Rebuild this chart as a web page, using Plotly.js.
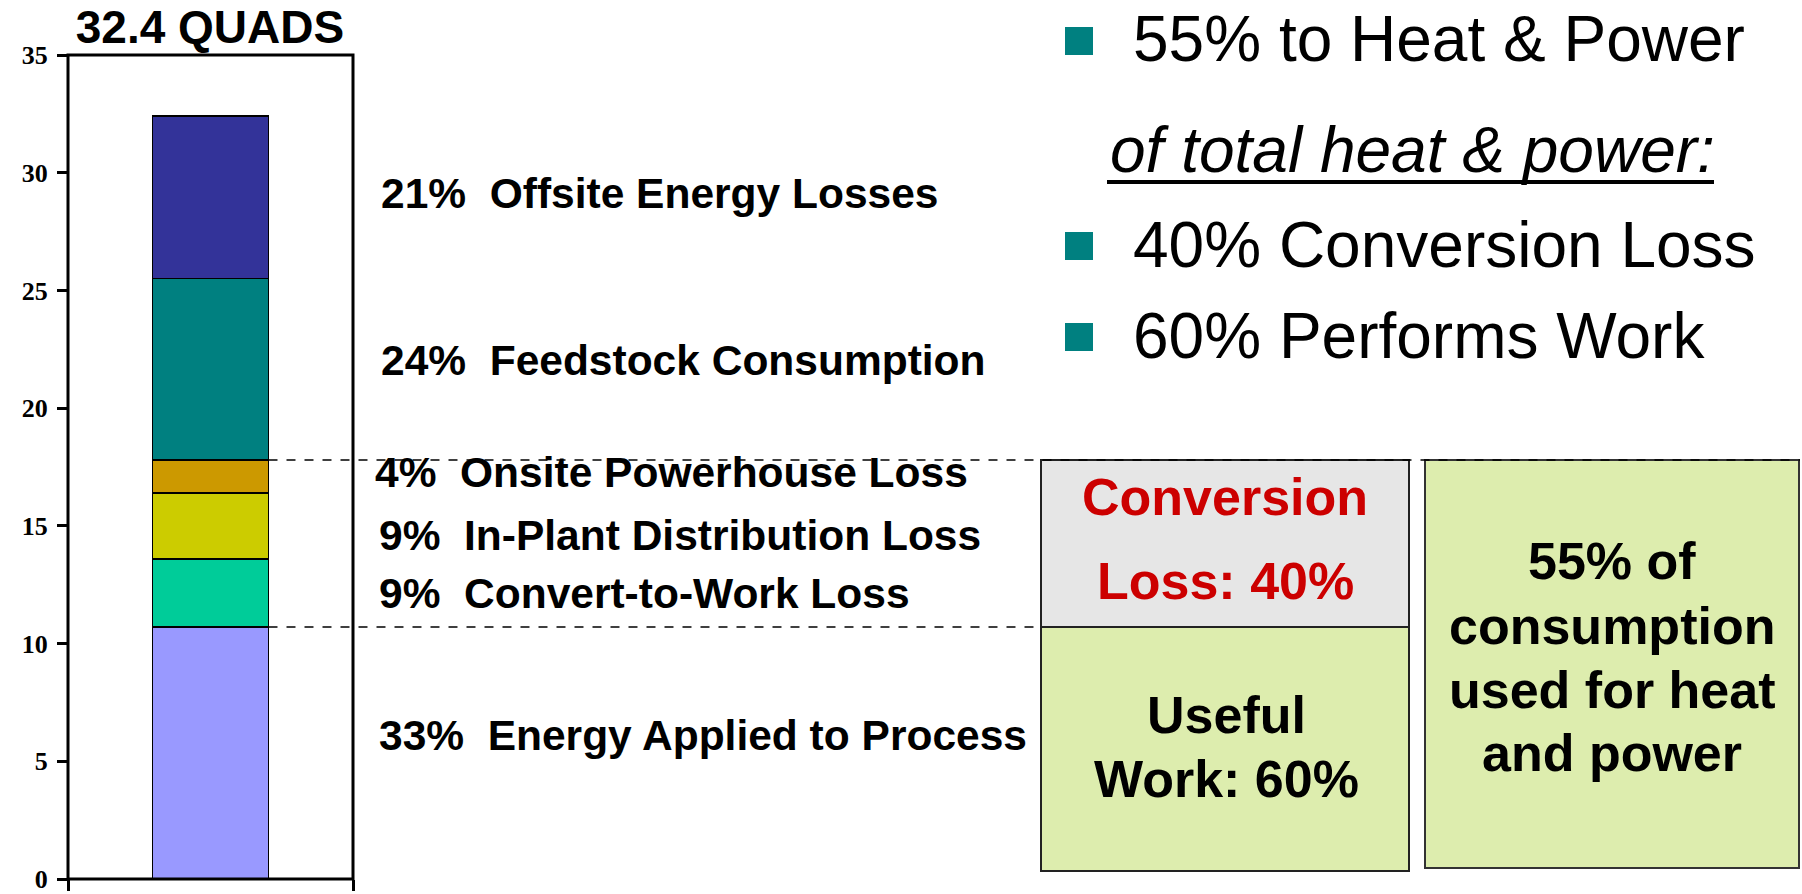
<!DOCTYPE html>
<html><head><meta charset="utf-8">
<script src="https://cdn.plot.ly/plotly-3.0.1.min.js"></script>
<style>html,body{margin:0;padding:0;background:#fff;}#chart{width:1802px;height:894px;}</style>
</head><body><div id="chart"></div>
<script>
// ---- data ----
const categories = ['Energy Applied to Process','Convert-to-Work Loss','In-Plant Distribution Loss','Onsite Powerhouse Loss','Feedstock Consumption','Offsite Energy Losses'];
const quads = [10.7, 2.9, 2.8, 1.4, 7.7, 6.9];
const shares = ['33%','9%','9%','4%','24%','21%'];
const segmentColors = ['#9999FF','#00CC99','#CCCC00','#CC9900','#008080','#333399'];
const yTickValues = [0,5,10,15,20,25,30,35];
const yTickLabels = ['0','5','10','15','20','25','30','35'];
const totalLabel = '32.4 QUADS';
const bulletLines = ['55% to Heat & Power','40% Conversion Loss','60% Performs Work'];
const subHeading = 'of total heat & power:';
const conversionLines = ['Conversion','Loss: 40%'];
const usefulLines = ['Useful','Work: 60%'];
const heatPowerLines = ['55% of','consumption','used for heat','and power'];

// ---- layout helpers (pixel -> paper) ----
const W = 1802, H = 894;
const PL = 68, PR = 353, PT = 55, PB = 879;
const px2x = p => (p - PL) / (PR - PL);
const py2y = p => 1 - (p - PT) / (PB - PT);
const FONT = 'Liberation Sans, Arial, sans-serif';
const barWidth = 0.407;

const cum = [];
quads.reduce((a, v, i) => (cum[i] = +(a + v).toFixed(2)), 0);
const yMax = 35;

const traces = categories.map((c, i) => ({
  type: 'bar', x: [0], y: [quads[i]], name: c, width: barWidth,
  marker: {color: segmentColors[i], line: {color: '#000', width: 1.5}},
  hovertemplate: c + ': %{y}<extra></extra>'
}));

const labelPx = [[377,735],[377,593],[377,535],[373,472],[379,360],[379,193]];
const annotations = [];
categories.forEach((c, i) => {
  annotations.push({xref:'paper', yref:'paper', x: px2x(labelPx[i][0]), y: py2y(labelPx[i][1]),
    xanchor:'left', yanchor:'middle', showarrow:false,
    text: '<b>' + shares[i] + '\u00a0\u00a0' + c + '</b>',
    font:{family: FONT, size: 42.5, color:'#000'}});
});
const bulletY = [39, 245, 336];
bulletLines.forEach((t, i) => annotations.push({xref:'paper', yref:'paper', x: px2x(1131), y: py2y(bulletY[i]),
  xanchor:'left', yanchor:'middle', showarrow:false, text: t, font:{family: FONT, size: 64, color:'#000'}}));
annotations.push({xref:'paper', yref:'paper', x: px2x(1108), y: py2y(150), xanchor:'left', yanchor:'middle',
  showarrow:false, text: '<i>' + subHeading + '</i>', font:{family: FONT, size: 64, color:'#000'}});
const convY = [497, 581];
conversionLines.forEach((t, i) => annotations.push({xref:'paper', yref:'paper', x: px2x(1225), y: py2y(convY[i]),
  xanchor:'center', yanchor:'middle', showarrow:false, text:'<b>'+t+'</b>', font:{family: FONT, size: 52, color:'#CC0000'}}));
const usefulY = [715, 779];
usefulLines.forEach((t, i) => annotations.push({xref:'paper', yref:'paper', x: px2x(1226), y: py2y(usefulY[i]),
  xanchor:'center', yanchor:'middle', showarrow:false, text:'<b>'+t+'</b>', font:{family: FONT, size: 52, color:'#000'}}));
const hpY = [561, 626, 690, 753];
heatPowerLines.forEach((t, i) => annotations.push({xref:'paper', yref:'paper', x: px2x(1612), y: py2y(hpY[i]),
  xanchor:'center', yanchor:'middle', showarrow:false, text:'<b>'+t+'</b>', font:{family: FONT, size: 52, color:'#000'}}));

const upper = cum[3] / yMax, lower = cum[0] / yMax;
const barRight = 0.5 + barWidth / 2;
const shapes = [
  {type:'rect', xref:'paper', yref:'paper', x0: px2x(1041), x1: px2x(1409), y0: lower, y1: upper,
   fillcolor:'#e6e6e6', line:{color:'#222', width:2}},
  {type:'rect', xref:'paper', yref:'paper', x0: px2x(1041), x1: px2x(1409), y0: py2y(871), y1: lower,
   fillcolor:'#DDEDAE', line:{color:'#222', width:2}},
  {type:'rect', xref:'paper', yref:'paper', x0: px2x(1425), x1: px2x(1799), y0: py2y(868), y1: upper,
   fillcolor:'#DDEDAE', line:{color:'#333', width:2}},
  {type:'line', xref:'paper', yref:'paper', x0: barRight, x1: px2x(1800), y0: upper, y1: upper,
   line:{color:'#000', width:1.5, dash:'dash'}},
  {type:'line', xref:'paper', yref:'paper', x0: barRight, x1: px2x(1041), y0: lower, y1: lower,
   line:{color:'#000', width:1.5, dash:'dash'}},
  {type:'line', xref:'paper', yref:'paper', x0: px2x(1107), x1: px2x(1714), y0: py2y(182), y1: py2y(182),
   line:{color:'#000', width:4}},
  // plot frame
  {type:'rect', xref:'paper', yref:'paper', x0: 0, x1: 1, y0: 0, y1: 1, line:{color:'#000', width:3},
   fillcolor:'rgba(0,0,0,0)', layer:'above'}
];
[[27,55],[232,260],[323,351]].forEach(([a,b]) => shapes.push({type:'rect', xref:'paper', yref:'paper',
  x0: px2x(1065), x1: px2x(1093), y0: py2y(b), y1: py2y(a), fillcolor:'#008080', line:{width:0}}));

const layout = {
  width: W, height: H, barmode:'stack', showlegend:false,
  paper_bgcolor:'#fff', plot_bgcolor:'#fff',
  margin:{l: PL, r: W - PR, t: PT, b: H - PB, pad: 0},
  title:{text:'<b>' + totalLabel + '</b>', font:{family: FONT, size:46, color:'#000'},
    xref:'container', yref:'container', x: 210/W, xanchor:'center', y: 1 - 27/H, yanchor:'middle'},
  xaxis:{range:[-0.5,0.5], showgrid:false, zeroline:false, showline:false,
    ticks:'outside', tickvals:[-0.5,0.5], ticklen:11, tickwidth:2.5, tickcolor:'#000',
    showticklabels:false, fixedrange:true},
  yaxis:{range:[0, yMax], tickmode:'array', tickvals: yTickValues, ticktext: yTickLabels.map(t => '<b>' + t + '</b>'),
    ticks:'outside', ticklen:10, tickwidth:2.5, tickcolor:'#000',
    showline:false, showgrid:false, zeroline:false,
    ticklabelstandoff: 4, ticklabeloverflow:'allow',
    tickfont:{family:'Liberation Serif', size:26, color:'#000'}, fixedrange:true},
  shapes, annotations
};
Plotly.newPlot('chart', traces, layout, {displayModeBar:false});
</script></body></html>
